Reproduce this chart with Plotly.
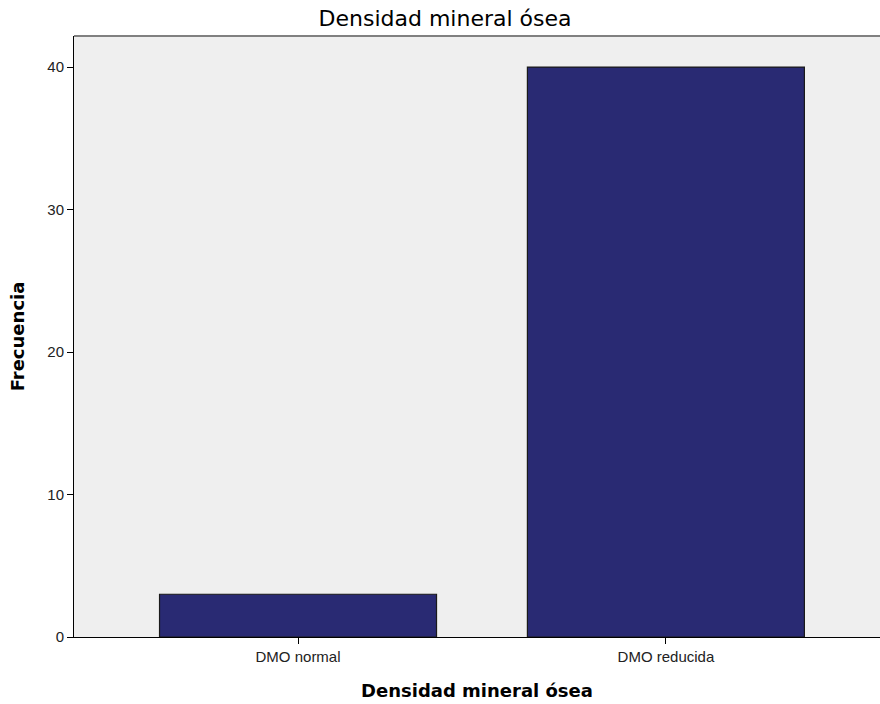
import plotly.graph_objects as go

categories = ["DMO normal", "DMO reducida"]
frecuencia = [3, 40]
y_ticks = [0, 10, 20, 30, 40]

bar_color = "#292A73"
bg_color = "#EFEFEF"
title_font = "DejaVu Sans, Liberation Sans, sans-serif"
tick_font = "Liberation Sans, Arial, sans-serif"

fig = go.Figure(
    go.Bar(
        x=categories,
        y=frecuencia,
        width=0.753,
        marker=dict(color=bar_color, line=dict(color="#1a1a1a", width=1.2)),
    )
)

fig.update_layout(
    width=880,
    height=704,
    margin=dict(l=74, r=0, t=36, b=67),
    paper_bgcolor="white",
    plot_bgcolor=bg_color,
    showlegend=False,
    font=dict(family=tick_font, color="#222222"),
    title=dict(
        text="Densidad mineral ósea",
        x=445 / 880,
        xanchor="center",
        y=1 - 18.5 / 704,
        yanchor="middle",
        font=dict(size=22, color="black", family=title_font),
    ),
    xaxis=dict(
        range=[-0.609, 1.582],
        showgrid=False,
        showline=True,
        linecolor="black",
        linewidth=1,
        ticks="outside",
        ticklen=6,
        tickcolor="black",
        tickfont=dict(size=15, color="#222222", family=tick_font),
        title=dict(
            text="<b>Densidad mineral ósea</b>",
            font=dict(size=18, color="black", family=title_font),
            standoff=20,
        ),
        zeroline=False,
    ),
    yaxis=dict(
        range=[0, 42.18],
        tickvals=y_ticks,
        showgrid=False,
        showline=True,
        linecolor="black",
        linewidth=1,
        ticks="outside",
        ticklen=6,
        tickcolor="black",
        tickfont=dict(size=15, color="#222222", family=tick_font),
        title=dict(
            text="<b>Frecuencia</b>",
            font=dict(size=18, color="black", family=title_font),
            standoff=18,
        ),
        zeroline=False,
    ),
)

# thin grey frame line along the top of the plotting area
fig.add_shape(
    type="line",
    xref="paper",
    yref="paper",
    x0=0,
    x1=1,
    y0=1,
    y1=1,
    line=dict(color="#808080", width=2),
)

fig.write_html("out.html")
